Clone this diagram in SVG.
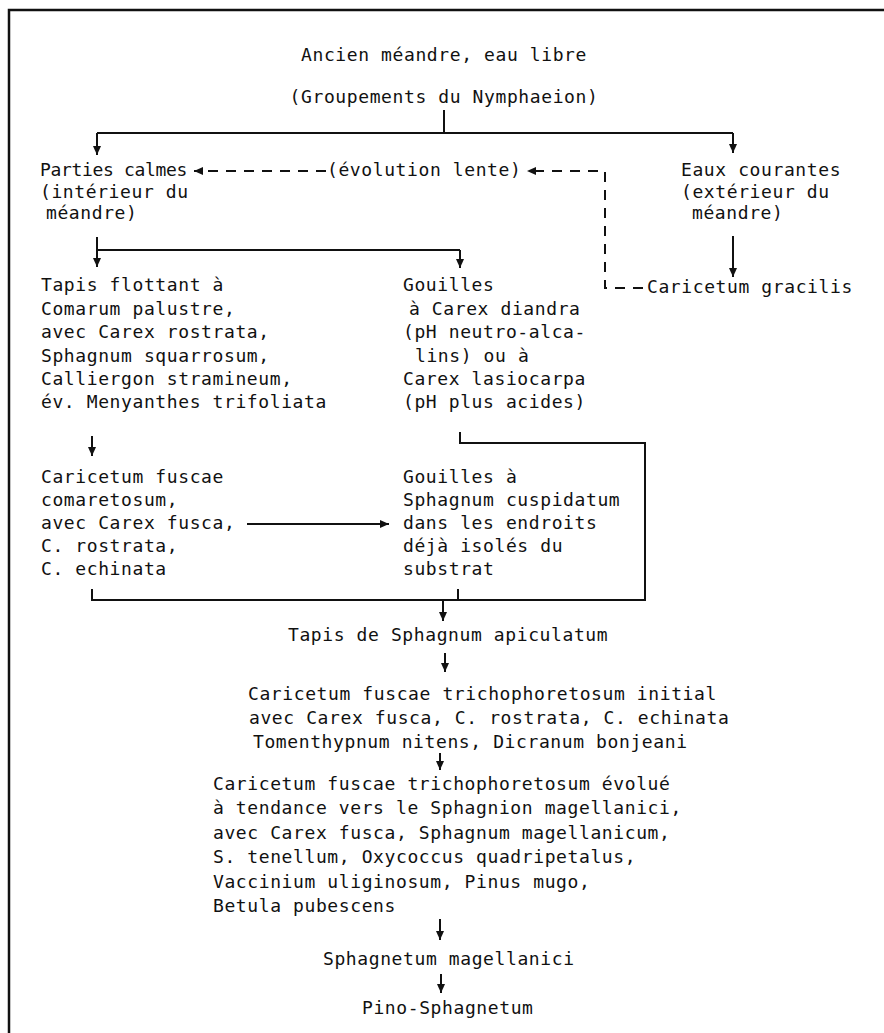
<svg xmlns="http://www.w3.org/2000/svg" width="884" height="1033" viewBox="0 0 884 1033">
<style>
  text { font-family: "DejaVu Sans Mono", "Liberation Mono", monospace; font-size: 18px; letter-spacing: 0.6px; fill: #111; }
  .mid { text-anchor: middle; }
  .ln { fill: none; stroke: #111; stroke-width: 2; }
  .dash { fill: none; stroke: #111; stroke-width: 2; stroke-dasharray: 10 8; }
  .ar { marker-end: url(#ah); }
  .frame { fill: none; stroke: #111; stroke-width: 2.5; }
</style>
<defs>
  <marker id="ah" markerUnits="userSpaceOnUse" markerWidth="10" markerHeight="10" viewBox="0 0 10 10" refX="9" refY="5" orient="auto">
    <path d="M0,1 L9,5 L0,9 z" fill="#111"/>
  </marker>
</defs>
<rect width="884" height="1033" fill="#fff"/>
<path class="frame" d="M9,1033 V10 H884"/>

<g id="connectors">
  <path class="ln" d="M444,110 V133"/>
  <path class="ln" d="M97,133 H733"/>
  <path class="ln ar" d="M97,133 V155"/>
  <path class="ln ar" d="M733,133 V153"/>
  <path class="dash ar" d="M326,171 H194"/>
  <path class="dash ar" d="M643,288 H605 V171 H527"/>
  <path class="ln ar" d="M733,236 V277"/>
  <path class="ln ar" d="M97,237 V267"/>
  <path class="ln" d="M97,250 H460"/>
  <path class="ln ar" d="M460,250 V268"/>
  <path class="ln ar" d="M92,436 V456"/>
  <path class="ln ar" d="M247,524 H389"/>
  <path class="ln" d="M460,432 V443 H645 V600 H92 V589"/>
  <path class="ln" d="M458,589 V600"/>
  <path class="ln ar" d="M443,600 V621"/>
  <path class="ln ar" d="M445,653 V672"/>
  <path class="ln ar" d="M440,753 V770"/>
  <path class="ln ar" d="M440,919 V940"/>
  <path class="ln ar" d="M441,974 V993"/>
</g>

<g id="n-meandre">
  <text class="mid" x="444" y="61">Ancien méandre, eau libre</text>
  <text class="mid" x="444" y="103">(Groupements du Nymphaeion)</text>
</g>
<g id="n-calmes">
  <text x="40" y="176" textLength="148" lengthAdjust="spacing">Parties calmes</text>
  <text x="40" y="198">(intérieur du</text>
  <text x="46" y="219">méandre)</text>
</g>
<g id="n-evolution">
  <text x="327" y="176">(évolution lente)</text>
</g>
<g id="n-courantes">
  <text x="681" y="176">Eaux courantes</text>
  <text x="681" y="198">(extérieur du</text>
  <text x="692" y="219">méandre)</text>
</g>
<g id="n-gracilis">
  <text x="647" y="293">Caricetum gracilis</text>
</g>
<g id="n-tapis-flottant">
  <text x="41" y="291">Tapis flottant à</text>
  <text x="41" y="315">Comarum palustre,</text>
  <text x="41" y="338">avec Carex rostrata,</text>
  <text x="41" y="362">Sphagnum squarrosum,</text>
  <text x="41" y="385">Calliergon stramineum,</text>
  <text x="41" y="408">év. Menyanthes trifoliata</text>
</g>
<g id="n-gouilles-carex">
  <text x="403" y="291">Gouilles</text>
  <text x="409" y="315">à Carex diandra</text>
  <text x="403" y="338">(pH neutro-alca-</text>
  <text x="415" y="362">lins) ou à</text>
  <text x="403" y="385">Carex lasiocarpa</text>
  <text x="403" y="408">(pH plus acides)</text>
</g>
<g id="n-comaretosum">
  <text x="41" y="483">Caricetum fuscae</text>
  <text x="41" y="506">comaretosum,</text>
  <text x="41" y="529">avec Carex fusca,</text>
  <text x="41" y="552">C. rostrata,</text>
  <text x="41" y="575">C. echinata</text>
</g>
<g id="n-gouilles-sphagnum">
  <text x="403" y="483">Gouilles à</text>
  <text x="403" y="506">Sphagnum cuspidatum</text>
  <text x="403" y="529">dans les endroits</text>
  <text x="403" y="552">déjà isolés du</text>
  <text x="403" y="575">substrat</text>
</g>
<g id="n-apiculatum">
  <text x="288" y="641">Tapis de Sphagnum apiculatum</text>
</g>
<g id="n-initial">
  <text x="248" y="700">Caricetum fuscae trichophoretosum initial</text>
  <text x="249" y="724">avec Carex fusca, C. rostrata, C. echinata</text>
  <text x="253" y="748">Tomenthypnum nitens, Dicranum bonjeani</text>
</g>
<g id="n-evolue">
  <text x="213" y="790">Caricetum fuscae trichophoretosum évolué</text>
  <text x="213" y="814">à tendance vers le Sphagnion magellanici,</text>
  <text x="213" y="839">avec Carex fusca, Sphagnum magellanicum,</text>
  <text x="213" y="863">S. tenellum, Oxycoccus quadripetalus,</text>
  <text x="213" y="888">Vaccinium uliginosum, Pinus mugo,</text>
  <text x="213" y="912">Betula pubescens</text>
</g>
<g id="n-magellanici">
  <text x="323" y="965">Sphagnetum magellanici</text>
</g>
<g id="n-pino">
  <text x="362" y="1014">Pino-Sphagnetum</text>
</g>
</svg>
